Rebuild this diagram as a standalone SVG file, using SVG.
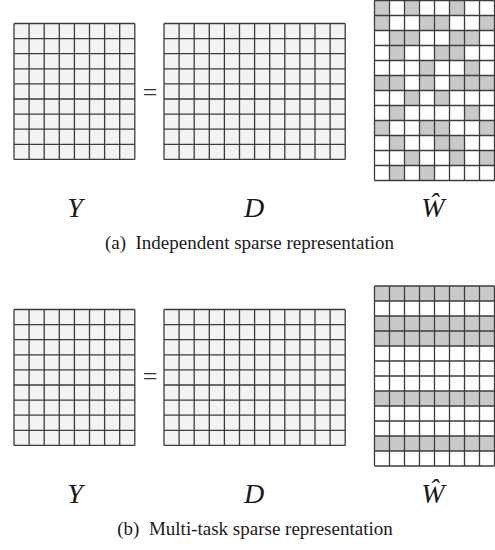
<svg xmlns="http://www.w3.org/2000/svg" width="495" height="550" viewBox="0 0 495 550">
<style>
.bg{fill:#f3f3f3}
.wbg{fill:#ffffff}
.gray{fill:#c9c9c9}
.grid{fill:none;stroke:#3c3c3c;stroke-width:1.3}
.lbl{font-family:"Liberation Serif","Times New Roman",serif;font-style:italic;font-size:28px;fill:#1a1a1a;text-anchor:middle}
.eq{font-family:"Liberation Serif","Times New Roman",serif;font-size:26px;fill:#333;text-anchor:middle}
.cap{font-family:"Liberation Serif","Times New Roman",serif;font-size:19px;fill:#1a1a1a;text-anchor:middle}
</style>
<defs>
<g id="gridY">
<rect class="bg" x="0" y="0" width="120.8" height="135.9"/>
<path class="grid" d="M0 0V135.9M15.1 0V135.9M30.2 0V135.9M45.3 0V135.9M60.4 0V135.9M75.5 0V135.9M90.6 0V135.9M105.7 0V135.9M120.8 0V135.9M0 0H120.8M0 15.1H120.8M0 30.2H120.8M0 45.3H120.8M0 60.4H120.8M0 75.5H120.8M0 90.6H120.8M0 105.7H120.8M0 120.8H120.8M0 135.9H120.8"/>
</g>
<g id="gridD">
<rect class="bg" x="0" y="0" width="181.2" height="135.9"/>
<path class="grid" d="M0 0V135.9M15.1 0V135.9M30.2 0V135.9M45.3 0V135.9M60.4 0V135.9M75.5 0V135.9M90.6 0V135.9M105.7 0V135.9M120.8 0V135.9M135.9 0V135.9M151 0V135.9M166.1 0V135.9M181.2 0V135.9M0 0H181.2M0 15.1H181.2M0 30.2H181.2M0 45.3H181.2M0 60.4H181.2M0 75.5H181.2M0 90.6H181.2M0 105.7H181.2M0 120.8H181.2M0 135.9H181.2"/>
</g>
<path id="gridW" class="grid" d="M0 0V180M15 0V180M30 0V180M45 0V180M60 0V180M75 0V180M90 0V180M105 0V180M120 0V180M0 0H120M0 15H120M0 30H120M0 45H120M0 60H120M0 75H120M0 90H120M0 105H120M0 120H120M0 135H120M0 150H120M0 165H120M0 180H120"/>
</defs>

<g id="panel-a">
<g id="Y-a"><use href="#gridY" transform="translate(14,23.5)"/></g>
<g id="eq-a"><text class="eq" x="150" y="101">=</text></g>
<g id="D-a"><use href="#gridD" transform="translate(164,23.5)"/></g>
<g id="W-a" transform="translate(374.5,0.5)">
<rect class="wbg" x="0" y="0" width="120" height="180"/>
<path class="gray" d="M0 0h15v15h-15zM30 0h15v15h-15zM75 0h15v15h-15zM0 15h15v15h-15zM45 15h15v15h-15zM60 15h15v15h-15zM105 15h15v15h-15zM15 30h15v15h-15zM30 30h15v15h-15zM75 30h15v15h-15zM90 30h15v15h-15zM15 45h15v15h-15zM60 45h15v15h-15zM75 45h15v15h-15zM45 60h15v15h-15zM90 60h15v15h-15zM0 75h15v15h-15zM15 75h15v15h-15zM45 75h15v15h-15zM75 75h15v15h-15zM90 75h15v15h-15zM105 75h15v15h-15zM30 90h15v15h-15zM60 90h15v15h-15zM15 105h15v15h-15zM90 105h15v15h-15zM0 120h15v15h-15zM45 120h15v15h-15zM60 120h15v15h-15zM105 120h15v15h-15zM15 135h15v15h-15zM60 135h15v15h-15zM75 135h15v15h-15zM30 150h15v15h-15zM75 150h15v15h-15zM105 150h15v15h-15zM15 165h15v15h-15zM45 165h15v15h-15z"/>
<use href="#gridW"/>
</g>
<g id="labels-a">
<text class="lbl" x="75" y="217">Y</text>
<text class="lbl" x="254" y="217">D</text>
<text class="lbl" x="433" y="217">Ŵ</text>
</g>
<text id="caption-a" class="cap" x="249.5" y="249" xml:space="preserve">(a)  Independent sparse representation</text>
</g>

<g id="panel-b">
<g id="Y-b"><use href="#gridY" transform="translate(14,309.5)"/></g>
<g id="eq-b"><text class="eq" x="150" y="385">=</text></g>
<g id="D-b"><use href="#gridD" transform="translate(164,309.5)"/></g>
<g id="W-b" transform="translate(374.5,286)">
<rect class="wbg" x="0" y="0" width="120" height="180"/>
<path class="gray" d="M0 0h120v15h-120zM0 30h120v30h-120zM0 105h120v15h-120zM0 150h120v15h-120z"/>
<use href="#gridW"/>
</g>
<g id="labels-b">
<text class="lbl" x="75" y="503">Y</text>
<text class="lbl" x="254" y="503">D</text>
<text class="lbl" x="433" y="503">Ŵ</text>
</g>
<text id="caption-b" class="cap" x="255" y="535" xml:space="preserve">(b)  Multi-task sparse representation</text>
</g>
</svg>
